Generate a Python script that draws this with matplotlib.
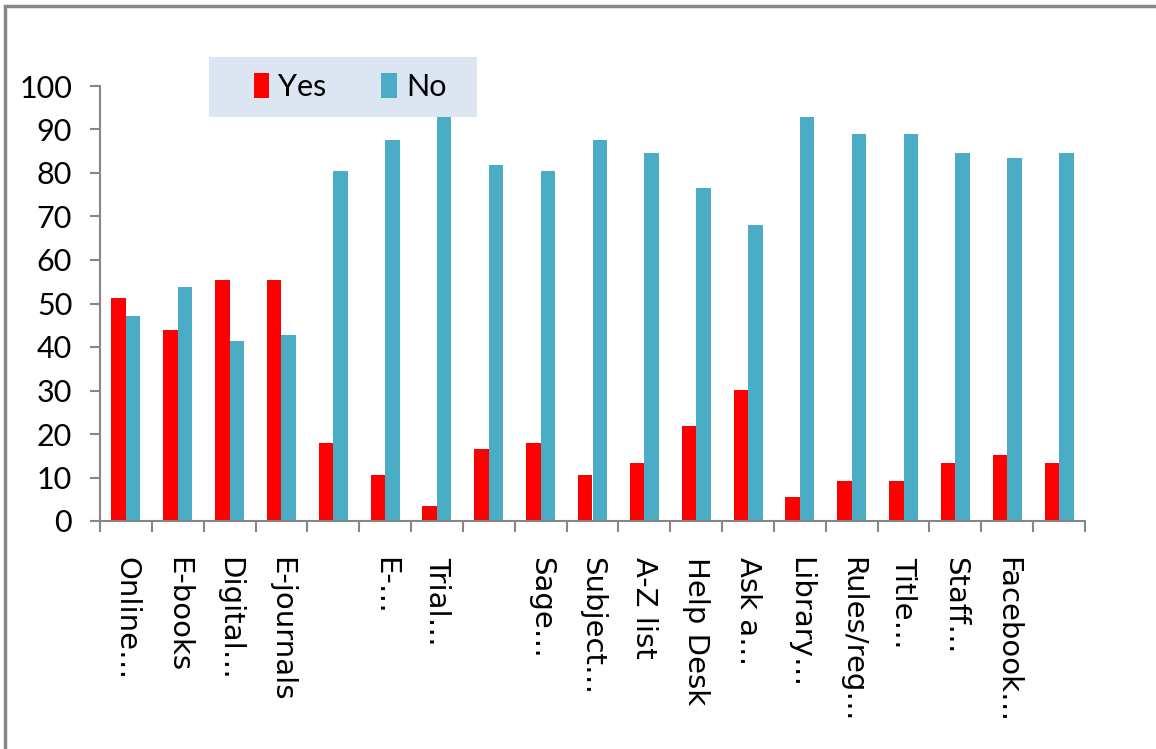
import matplotlib
matplotlib.use("Agg")
import matplotlib.pyplot as plt
from matplotlib.patches import Rectangle
import numpy as np

categories = ["Online…", "E-books", "Digital…", "E-journals", "", "E-…", "Trial…", "",
              "Sage…", "Subject…", "A-Z list", "Help Desk", "Ask a…", "Library…",
              "Rules/reg…", "Title…", "Staff…", "Facebook…", ""]
yes_vals = [51.2, 44, 55.5, 55.5, 18, 10.6, 3.5, 16.5, 18, 10.6, 13.3, 21.8, 30.1,
            5.5, 9.2, 9.2, 13.3, 15.2, 13.3]
no_vals = [47.1, 53.8, 41.4, 42.8, 80.5, 87.6, 93, 81.8, 80.5, 87.6, 84.6, 76.6, 68,
           92.9, 89, 89, 84.6, 83.4, 84.6]

RED = "#ff0000"
BLUE = "#4bacc6"
GRAY = "#868686"
narrow = ["Lato", "DejaVu Sans"]

W, H = 1156, 749
fig = plt.figure(figsize=(W / 100, H / 100), dpi=100)
ax = fig.add_axes([100 / W, 1 - 521 / H, 985 / W, 435 / H])

x = np.arange(len(categories))
bw = 0.28
ax.bar(x - bw / 2, yes_vals, bw, color=RED, label="Yes")
ax.bar(x + bw / 2, no_vals, bw, color=BLUE, label="No")

ax.set_xlim(-0.5, len(categories) - 0.5)
ax.set_ylim(0, 100)
ax.set_yticks(range(0, 101, 10))
for t in ax.get_yticklabels():
    t.set_family(narrow)
    t.set_fontsize(22)
ax.tick_params(axis="y", direction="out", length=7, width=1.5, color=GRAY, pad=13)

ax.set_xticks(x)
ax.set_xticklabels(categories, rotation=270, fontsize=21, family="DejaVu Sans",
                   va="top", ha="center")
ax.set_xticks(np.arange(-0.5, len(categories)), minor=True)
ax.tick_params(axis="x", which="major", length=0, pad=26)
ax.tick_params(axis="x", which="minor", direction="out", length=8, width=1.5, color=GRAY)

for s in ["top", "right"]:
    ax.spines[s].set_visible(False)
for s in ["left", "bottom"]:
    ax.spines[s].set_color(GRAY)
    ax.spines[s].set_linewidth(1.5)

# legend box
fig.patches.append(Rectangle((209 / W, 1 - 117 / H), 268 / W, 60 / H,
                             transform=fig.transFigure, facecolor="#dce6f2",
                             edgecolor="none", zorder=3))
leg = fig.legend(loc="center", bbox_to_anchor=(350 / W, 1 - 87 / H), ncol=2,
                 frameon=False, prop={"family": narrow, "size": 22},
                 handlelength=0.5, handleheight=0.9, handletextpad=0.3,
                 columnspacing=1.8)
leg.set_zorder(5)

# outer frame
fig.patches.append(Rectangle((5 / W, -0.1), 1.2, 1.1 - 6 / H, transform=fig.transFigure,
                             facecolor="none", edgecolor="#888888", linewidth=2.5,
                             zorder=10))

fig.savefig("out.png", dpi=100)
